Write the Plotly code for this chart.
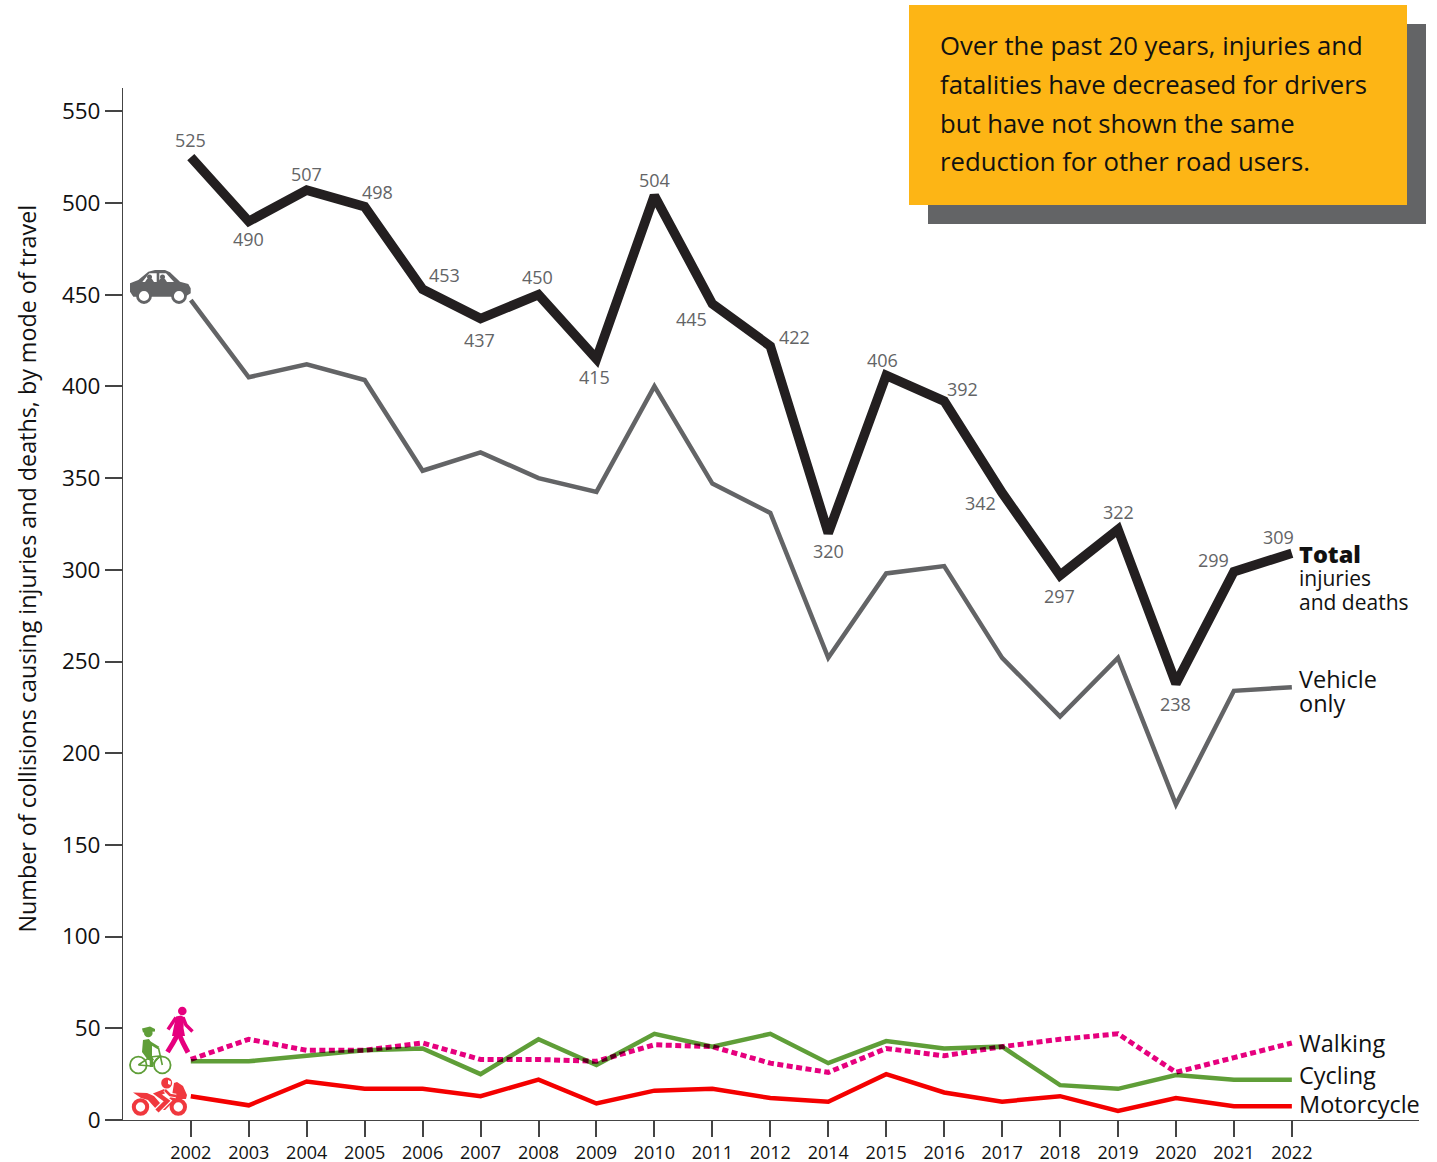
import plotly.graph_objects as go

years = ["2002","2003","2004","2005","2006","2007","2008","2009","2010","2011","2012","2014","2015","2016","2017","2018","2019","2020","2021","2022"]
total = [525,490,507,498,453,437,450,415,504,445,422,320,406,392,342,297,322,238,299,309]
vehicle = [447,405,412,403.5,354,364,350,342.5,400,347,331,252,298,302,252,220,252,172,234,236]
walking = [33,44,38,38,42,33,33,32,41,40,31,26,39,35,40,44,47,26,34,42]
cycling = [32,32,35,38,39,25,44,30,47,40,47,31,43,39,40,19,17,24.5,22,22]
motorcycle = [13,8,21,17,17,13,22,9,16,17,12,10,25,15,10,13,5,12,7.5,7.5]
yticks = list(range(0,551,50))

label_dx = [0,0,0,13,22,-1,-1,-2,0,-21,24,0,-4,18,-22,-1,0,0,-20,-13]
label_dy = [17,-18,16,15,14,-21,18,-18,16,-15,9,-18,15,12,-10,-21,17,-20,12,16]

callout = ["Over the past 20 years, injuries and","fatalities have decreased for drivers","but have not shown the same","reduction for other road users."]
FONT = "Open Sans"
W,H = 1437,1162
L,R,T,B = 123,1419,88,1120
X0 = 190.8
PX = 57.95
UNIT = (1120-203)/500
def px(x): return (x-L)/(R-L)
def py(y): return (B-y)/(B-T)

fig = go.Figure()
def add(name, vals, color, width, dash="solid"):
    fig.add_trace(go.Scatter(x=years,y=vals,name=name,mode="lines",line=dict(color=color,width=width,dash=dash),showlegend=False,hoverinfo="x+y"))
add("Vehicle only",vehicle,"#636466",4.5)
add("Motorcycle",motorcycle,"#f40000",4.5)
add("Cycling",cycling,"#5f9e38",4.5)
add("Total",total,"#231f20",9.5)
add("Walking",walking,"#e6007e",5,"6px,3.5px")

ann = []
for i,(v,dx,dy) in enumerate(zip(total,label_dx,label_dy)):
    ann.append(dict(x=i,y=v,xref="x",yref="y",text=str(v),showarrow=False,xshift=dx,yshift=dy,font=dict(family=FONT,size=18,color="#636466")))
def t(text,x,y,size=23.5,color="#111",weight=None):
    ann.append(dict(x=px(x-2.5),y=py(y),xref="paper",yref="paper",text=text,showarrow=False,xanchor="left",yanchor="middle",font=dict(family=FONT,size=size,color=color,weight=weight)))
t("Total",1299,553.5,23.5,weight=800)
t("injuries",1299,578,21)
t("and deaths",1299,602,21)
t("Vehicle",1299,678.5)
t("only",1299,703)
t("Walking",1299,1043)
t("Cycling",1299,1075)
t("Motorcycle",1299,1104)
for i,l in enumerate(callout):
    t(l,940,46+i*38.6,25.7)
ann.append(dict(x=px(26.5),y=py(569),xref="paper",yref="paper",text="Number of collisions causing injuries and deaths, by mode of travel",showarrow=False,textangle=-90,xanchor="center",yanchor="middle",font=dict(family=FONT,size=23.3,color="#111")))

def rect(x0,y0,x1,y1,c):
    return dict(type="rect",xref="paper",yref="paper",x0=px(x0),x1=px(x1),y0=py(y1),y1=py(y0),fillcolor=c,line=dict(width=0),layer="below")
shapes=[rect(928,24,1426,224,"#636466"),rect(909,5,1407,205,"#fdb515")]

# pictogram helpers (page pixel coordinates)
def poly(pts,c):
    d="M"+" L".join(f"{px(x):.5f},{py(y):.5f}" for x,y in pts)+" Z"
    return dict(type="path",xref="paper",yref="paper",path=d,fillcolor=c,line=dict(width=0),layer="above")
def stroke(pts,c,w):
    d="M"+" L".join(f"{px(x):.5f},{py(y):.5f}" for x,y in pts)
    return dict(type="path",xref="paper",yref="paper",path=d,fillcolor="rgba(0,0,0,0)",line=dict(color=c,width=w),layer="above")
def circ(x,y,r,c,lc=None,lw=0):
    return dict(type="circle",xref="paper",yref="paper",x0=px(x-r),x1=px(x+r),y0=py(y+r),y1=py(y-r),fillcolor=c,line=dict(width=lw,color=lc or c),layer="above")

GR="#636466"
shapes += [
  poly([(130,283.3),(138.3,280),(148.3,271.7),(155,270),(165,270),(170,272.3),(180,281.7),(188.3,284),(190.7,288.3),(190.7,293.3),(185,296.7),(133.3,296.7),(130,291.7)],GR),
  poly([(142.3,282),(149.3,273.3),(156.7,273.3),(156.7,282)],"white"),
  poly([(159.3,273.3),(166,273.3),(174,282),(159.3,282)],"white"),
  circ(149.5,277,2.5,GR),circ(162.5,277,2.5,GR),
  poly([(145,282),(154,282),(152,279),(147,279)],GR),poly([(158,282),(167,282),(165,279),(160,279)],GR),
  circ(144,296,6.5,"white",GR,2.8),circ(179,296,6.5,"white",GR,2.8),
]
PK="#e6007e"
shapes += [
  circ(182.3,1011,4.3,PK),
  poly([(176,1016.5),(181,1015.5),(184,1017),(183.5,1028),(185,1036),(172,1036),(174,1026)],PK),
  stroke([(176,1017.5),(168,1029.5)],PK,3.5),
  stroke([(183,1017.5),(186,1025),(192.5,1031.5)],PK,3.5),
  stroke([(178,1034),(173,1043),(167.5,1052)],PK,5),
  stroke([(179,1034),(183,1043),(188,1052.5)],PK,5),
]
GN="#5f9e38"
shapes += [
  circ(148.3,1033,4.3,GN),
  poly([(142,1028.5),(150,1026.5),(155,1029),(155,1031.5),(143,1032.5)],GN),
  poly([(143,1040),(149,1039),(152,1044),(152,1056),(154,1060),(148,1060),(142,1052)],GN),
  stroke([(147,1041),(158.5,1048)],GN,3),
  stroke([(148,1057),(151.5,1060),(151.5,1067)],GN,3.5),
  circ(138.3,1065,8.3,"rgba(0,0,0,0)",GN,1.8),
  circ(162.3,1065,8.3,"rgba(0,0,0,0)",GN,1.8),
  stroke([(138.3,1065),(150,1057),(160,1056),(151,1066),(138.3,1065)],GN,1.6),
  stroke([(158.5,1048),(162.3,1065)],GN,1.6),
]
RD="#f0383e"
shapes += [
  poly([(133,1092.5),(147,1093),(154,1096),(160,1103),(166,1101),(172,1096),(174,1083),(177,1082),(183,1086),(187,1095),(186,1099),(176,1099),(172,1103),(165,1110),(157,1110),(148,1100),(141,1098)],RD),
  circ(140.5,1107,6.7,"white",RD,4),circ(178.3,1107,6.7,"white",RD,4),
  stroke([(165,1091),(157.5,1094),(167,1101),(157,1111)],"white",7),
  stroke([(165,1091),(157.5,1094),(167,1101),(157,1111)],RD,4.5),
  stroke([(165,1090),(170,1095),(176,1096)],"white",4.5),
  stroke([(165,1090),(170,1095),(176,1096)],RD,2.5),
  circ(166.7,1083,5.5,RD),
  poly([(168,1080),(171,1081.5),(170.5,1085),(168,1084)],"white"),
]

fig.update_layout(width=W,height=H,margin=dict(l=L,r=W-R,t=T,b=H-B,autoexpand=False),paper_bgcolor="white",plot_bgcolor="white",showlegend=False,annotations=ann,shapes=shapes,
  font=dict(family=FONT,color="#111"))
fig.update_xaxes(automargin=False,type="category",categoryorder="array",categoryarray=years,range=[(L-X0)/PX,(R-X0)/PX],showgrid=False,zeroline=False,showline=True,linecolor="#444",linewidth=1,ticks="outside",ticklen=16,tickcolor="#444",tickwidth=1.5,tickfont=dict(family=FONT,size=18,color="#111"),tickangle=0)
fig.update_yaxes(automargin=False,range=[0,(B-T)/UNIT],tickvals=yticks,showgrid=False,zeroline=False,showline=True,linecolor="#444",linewidth=1,ticks="outside",ticklen=17,tickcolor="#444",tickwidth=1.5,tickfont=dict(family=FONT,size=22.5,color="#111"))
post="document.body.style.margin='0';var s=document.createElement('style');s.textContent='.scatterlayer .trace:not(:nth-child(4)) .js-line{stroke-linejoin:miter!important;stroke-miterlimit:10!important}.scatterlayer .trace:last-child{mix-blend-mode:multiply}';document.head.appendChild(s);"
fig.write_html("out.html",post_script=post,config=dict(displayModeBar=False))
